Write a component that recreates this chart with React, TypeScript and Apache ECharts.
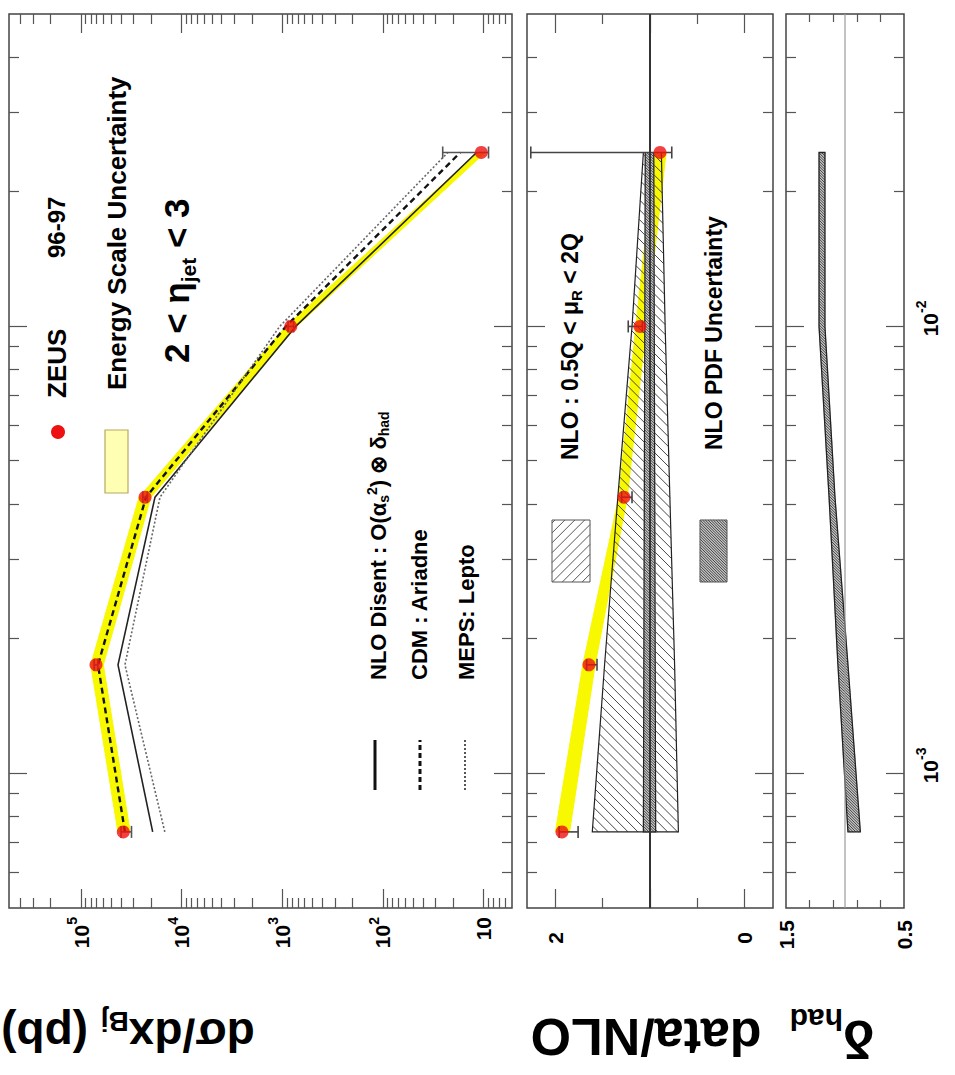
import React, { useEffect, useRef } from "react";
import * as echarts from "echarts";

// ---------- measurements ----------
const xBj = [7.4e-4, 1.75e-3, 4.15e-3, 1.0e-2, 2.45e-2];

// dσ/dx_Bj (pb)
const zeus = [38000, 71000, 23100, 822, 10.5];
const zeusErrLo = [31500, 68000, 21900, 770, 8.9];
const zeusErrHi = [40000, 74000, 24300, 875, 25.4];
const energyLo = [32500, 60000, 20200, 720, 9.6];
const energyHi = [43000, 80000, 26500, 920, 11.4];
const nloDisent = [19400, 42900, 18400, 735, 11.7];
const cdmAriadne = [36600, 67800, 22600, 920, 17];
const mepsLepto = [14700, 36600, 16400, 1060, 22.6];

// data/NLO
const ratio = [1.93, 1.645, 1.275, 1.106, 0.894];
const ratioErrLo = [1.76, 1.56, 1.19, 1.08, 0.77];
const ratioErrHi = [1.96, 1.67, 1.3, 1.23, 2.26];
const ratioEnergyLo = [1.85, 1.58, 1.24, 1.04, 0.83];
const ratioEnergyHi = [2.0, 1.71, 1.33, 1.15, 0.95];
const scaleLo = [0.7, 0.74, 0.79, 0.84, 0.88];
const scaleHi = [1.61, 1.48, 1.34, 1.19, 1.07];
const pdfLo = [0.94, 0.945, 0.95, 0.955, 0.96];
const pdfHi = [1.07, 1.065, 1.06, 1.055, 1.05];

// δ_had
const hadLo = [0.87, 0.975, 1.085, 1.17, 1.17];
const hadHi = [0.975, 1.06, 1.135, 1.22, 1.22];

// ---------- axes ----------
const xRange = [5e-4, 5e-2];
const xMajorTicks = [1e-3, 1e-2];
const xMinorTicks = [6e-4, 7e-4, 8e-4, 9e-4, 2e-3, 3e-3, 4e-3, 5e-3, 6e-3, 7e-3, 8e-3, 9e-3, 2e-2, 3e-2, 4e-2];
const xTickLabels = [1e-3, 1e-2];

const sigmaRange = [5.2, 5.2e5];
const sigmaMajorTicks = [1e1, 1e2, 1e3, 1e4, 1e5];
const sigmaMinorTicks = [
  6, 7, 8, 9, 20, 30, 40, 50, 60, 70, 80, 90, 200, 300, 400, 500, 600, 700, 800, 900,
  2000, 3000, 4000, 5000, 6000, 7000, 8000, 9000, 20000, 30000, 40000, 50000, 60000, 70000, 80000, 90000,
  200000, 300000, 400000,
];
const sigmaTickLabels = [1e1, 1e2, 1e3, 1e4, 1e5];

const ratioRange = [-0.3, 2.3];
const ratioMajorTicks = [0, 1, 2];
const ratioMinorTicks = [0.5, 1.5];
const ratioTickLabels = [0, 2];

const hadRange = [0.5, 1.5];
const hadMinorTicks = [0.7, 0.9, 1.1, 1.3];
const hadTickLabels = [0.5, 1.5];

// ---------- drawing helpers ----------
const FONT = "'Liberation Sans', Arial, Helvetica, sans-serif";
const L10 = Math.log10;
const RED = "#ee1111";
const YELLOW = "#f8f800";

// straight hatch lines clipped to a polygon (pixel space)
function hatchSegments(poly: number[][], spacing: number, angle: number) {
  const dx = Math.cos(angle), dy = Math.sin(angle);
  const nx = -dy, ny = dx;
  const proj = poly.map((p) => p[0] * nx + p[1] * ny);
  const pMin = Math.min(...proj), pMax = Math.max(...proj);
  const segs: number[][] = [];
  for (let c = Math.ceil(pMin / spacing) * spacing; c <= pMax; c += spacing) {
    const ts: number[] = [];
    for (let i = 0; i < poly.length; i++) {
      const a = poly[i], b = poly[(i + 1) % poly.length];
      const sa = a[0] * nx + a[1] * ny - c;
      const sb = b[0] * nx + b[1] * ny - c;
      if ((sa < 0) !== (sb < 0)) {
        const t = sa / (sa - sb);
        const px = a[0] + (b[0] - a[0]) * t, py = a[1] + (b[1] - a[1]) * t;
        ts.push(px * dx + py * dy);
      }
    }
    ts.sort((u, v) => u - v);
    for (let k = 0; k + 1 < ts.length; k += 2) {
      segs.push([c * nx + ts[k] * dx, c * ny + ts[k] * dy, c * nx + ts[k + 1] * dx, c * ny + ts[k + 1] * dy]);
    }
  }
  return segs;
}

const segPath = (segs: number[][]) =>
  segs.map((s) => `M${s[0].toFixed(2)} ${s[1].toFixed(2)}L${s[2].toFixed(2)} ${s[3].toFixed(2)}`).join("");

const HATCH_ANGLE = -Math.PI / 4;

function bandSeries(g: number, lo: number[], hi: number[], look: any) {
  const ax = g * 5;
  return {
    type: "custom",
    xAxisIndex: ax,
    yAxisIndex: ax,
    z: look.z,
    silent: true,
    data: xBj.map((x, i) => [x, lo[i], hi[i]]),
    encode: { x: 0, y: [1, 2] },
    renderItem: (params: any, api: any) => {
      if (params.dataIndex !== 0) return null;
      const top = xBj.map((x, i) => api.coord([x, hi[i]]));
      const bot = xBj.map((x, i) => api.coord([x, lo[i]])).reverse();
      const pts = top.concat(bot);
      const children: any[] = [];
      if (look.fill) {
        children.push({ type: "polygon", shape: { points: pts }, style: { fill: look.fill, stroke: look.fill, lineWidth: 1 } });
      }
      if (look.hatch) {
        children.push({
          type: "path",
          shape: { pathData: segPath(hatchSegments(pts, look.hatch.spacing, HATCH_ANGLE)) },
          style: { fill: "none", stroke: look.hatch.color, lineWidth: look.hatch.width },
        });
      }
      if (look.stroke) {
        children.push({ type: "polygon", shape: { points: pts }, style: { fill: "none", stroke: look.stroke, lineWidth: look.strokeWidth } });
      }
      return { type: "group", children };
    },
  };
}

function errorSeries(g: number, lo: number[], hi: number[], color: string) {
  const ax = g * 5;
  return {
    type: "custom",
    xAxisIndex: ax,
    yAxisIndex: ax,
    z: 8,
    silent: true,
    data: xBj.map((x, i) => [x, lo[i], hi[i]]),
    encode: { x: 0, y: [1, 2] },
    renderItem: (params: any, api: any) => {
      const x = api.value(0);
      const a = api.coord([x, api.value(1)]);
      const b = api.coord([x, api.value(2)]);
      const st = { stroke: color, lineWidth: 1.6 };
      const cap = 6;
      return {
        type: "group",
        children: [
          { type: "line", shape: { x1: a[0], y1: a[1], x2: b[0], y2: b[1] }, style: st },
          { type: "line", shape: { x1: a[0] - cap, y1: a[1], x2: a[0] + cap, y2: a[1] }, style: st },
          { type: "line", shape: { x1: b[0] - cap, y1: b[1], x2: b[0] + cap, y2: b[1] }, style: st },
        ],
      };
    },
  };
}

const lblRich = {
  b: { fontSize: 21, fontWeight: "bold", fontFamily: FONT, color: "#000", lineHeight: 32 },
  p: { fontSize: 14, fontWeight: "bold", fontFamily: FONT, color: "#000", verticalAlign: "top" },
};

function tickAxis(g: number, min: number, max: number, position: string, len: number, ticks: number[], label?: any) {
  return {
    type: "value",
    gridIndex: g,
    min,
    max,
    position,
    axisLine: { show: false, onZero: false },
    splitLine: { show: false },
    axisTick: {
      show: ticks.length > 0,
      inside: true,
      length: len,
      customValues: ticks,
      lineStyle: { color: "#555", width: 1.2 },
    },
    axisLabel: label
      ? {
          show: true,
          customValues: label.values,
          formatter: label.formatter,
          margin: label.margin,
          padding: label.padding || 0,
          rich: lblRich,
          color: "#000",
          fontSize: 21,
          fontWeight: "bold",
          fontFamily: FONT,
          showMinLabel: true,
          showMaxLabel: true,
        }
      : { show: false },
  };
}

const powLabel = (v: number) => {
  const e = Math.round(v);
  return e === 1 ? "{b|10}" : `{b|10}{p|${e}}`;
};

const grids = [
  { left: 167, top: 9, width: 894, height: 503 },
  { left: 167, top: 527, width: 894, height: 246 },
  { left: 167, top: 786, width: 894, height: 118 },
].map((g) => ({ ...g, show: true, borderColor: "#444", borderWidth: 1.5, backgroundColor: "transparent" }));

function buildAxes() {
  const xAxis: any[] = [];
  const yAxis: any[] = [];
  const lx0 = L10(xRange[0]), lx1 = L10(xRange[1]);
  for (let g = 0; g < 3; g++) {
    xAxis.push({ type: "log", logBase: 10, gridIndex: g, min: xRange[0], max: xRange[1], show: false });
    const xl =
      g === 2
        ? { values: xTickLabels.map(L10), formatter: powLabel, margin: 10, padding: [0, 0, 0, 16] }
        : undefined;
    xAxis.push(tickAxis(g, lx0, lx1, "bottom", 18, xMajorTicks.map(L10), xl));
    xAxis.push(tickAxis(g, lx0, lx1, "bottom", 10, xMinorTicks.map(L10)));
    xAxis.push(tickAxis(g, lx0, lx1, "top", 18, xMajorTicks.map(L10)));
    xAxis.push(tickAxis(g, lx0, lx1, "top", 10, xMinorTicks.map(L10)));
  }
  // cross section (log)
  const ly0 = L10(sigmaRange[0]), ly1 = L10(sigmaRange[1]);
  yAxis.push({ type: "log", logBase: 10, gridIndex: 0, min: sigmaRange[0], max: sigmaRange[1], show: false });
  yAxis.push(tickAxis(0, ly0, ly1, "left", 19, sigmaMajorTicks.map(L10), { values: sigmaTickLabels.map(L10), formatter: powLabel, margin: 9 }));
  yAxis.push(tickAxis(0, ly0, ly1, "left", 10, sigmaMinorTicks.map(L10)));
  yAxis.push(tickAxis(0, ly0, ly1, "right", 19, sigmaMajorTicks.map(L10)));
  yAxis.push(tickAxis(0, ly0, ly1, "right", 10, sigmaMinorTicks.map(L10)));
  // data/NLO
  yAxis.push({ type: "value", gridIndex: 1, min: ratioRange[0], max: ratioRange[1], show: false });
  yAxis.push(tickAxis(1, ratioRange[0], ratioRange[1], "left", 19, ratioMajorTicks, { values: ratioTickLabels, formatter: (v: number) => `{b|${v}}`, margin: 24 }));
  yAxis.push(tickAxis(1, ratioRange[0], ratioRange[1], "left", 10, ratioMinorTicks));
  yAxis.push(tickAxis(1, ratioRange[0], ratioRange[1], "right", 19, ratioMajorTicks));
  yAxis.push(tickAxis(1, ratioRange[0], ratioRange[1], "right", 10, ratioMinorTicks));
  // δ_had
  yAxis.push({ type: "value", gridIndex: 2, min: hadRange[0], max: hadRange[1], show: false });
  yAxis.push(tickAxis(2, hadRange[0], hadRange[1], "left", 8, [], { values: hadTickLabels, formatter: (v: number) => `{b|${v.toFixed(1)}}`, margin: 12 }));
  yAxis.push(tickAxis(2, hadRange[0], hadRange[1], "left", 8, hadMinorTicks));
  yAxis.push(tickAxis(2, hadRange[0], hadRange[1], "right", 8, []));
  yAxis.push(tickAxis(2, hadRange[0], hadRange[1], "right", 8, hadMinorTicks));
  return { xAxis, yAxis };
}

const pairs = (ys: number[]) => xBj.map((x, i) => [x, ys[i]]);

function lineSeries(g: number, ys: number[], style: any, z = 5) {
  return {
    type: "line",
    xAxisIndex: g * 5,
    yAxisIndex: g * 5,
    data: pairs(ys),
    showSymbol: false,
    symbol: "none",
    silent: true,
    z,
    lineStyle: style,
  };
}

function pointSeries(g: number, ys: number[]) {
  return {
    type: "scatter",
    xAxisIndex: g * 5,
    yAxisIndex: g * 5,
    data: pairs(ys),
    symbol: "circle",
    symbolSize: 13,
    silent: true,
    z: 10,
    itemStyle: { color: RED },
  };
}

function unityLine(g: number, color: string, width: number) {
  return {
    type: "line",
    xAxisIndex: g * 5,
    yAxisIndex: g * 5,
    data: [
      [xRange[0], 1],
      [xRange[1], 1],
    ],
    showSymbol: false,
    symbol: "none",
    silent: true,
    z: 9,
    lineStyle: { color, width },
  };
}

// ---------- annotations ----------
const richSet = (main: number, sub: number, lh: number) => ({
  m: { fontSize: main, fontWeight: "bold", fontFamily: FONT, fill: "#000", lineHeight: lh },
  s: { fontSize: sub, fontWeight: "bold", fontFamily: FONT, fill: "#000", verticalAlign: "bottom" },
  p: { fontSize: sub, fontWeight: "bold", fontFamily: FONT, fill: "#000", verticalAlign: "top" },
});

function text(x: number, y: number, str: string, size: number, extra: any = {}, rotation = 0) {
  const align = extra.align || "left";
  return {
    type: "text",
    x,
    y,
    rotation,
    silent: true,
    style: {
      text: str,
      fill: "#000",
      fontSize: size,
      fontWeight: "bold",
      fontFamily: FONT,
      align,
      textAlign: align,
      verticalAlign: "middle",
      textVerticalAlign: "middle",
      ...extra,
    },
  };
}

function hatchBox(x: number, y: number, w: number, h: number, spacing: number, angle: number, color: string, width: number, fill = "none") {
  const poly = [
    [x, y],
    [x + w, y],
    [x + w, y + h],
    [x, y + h],
  ];
  const segs = hatchSegments(poly, spacing, angle);
  return {
    type: "group",
    silent: true,
    children: [
      { type: "rect", shape: { x, y, width: w, height: h }, style: { fill, stroke: "none" } },
      ...segs.map((s) => ({
        type: "line",
        shape: { x1: s[0], y1: s[1], x2: s[2], y2: s[3] },
        style: { stroke: color, lineWidth: width },
      })),
      { type: "rect", shape: { x, y, width: w, height: h }, style: { fill: "none", stroke: "#555", lineWidth: 1 } },
    ],
  };
}

const DENSE_FILL = "#c4c4c4";

const graphic = [
  // panel 1 legend
  { type: "circle", shape: { cx: 643, cy: 58, r: 7 }, style: { fill: RED }, silent: true },
  text(677, 57, "ZEUS", 26),
  text(817, 56, "96-97", 24),
  { type: "rect", shape: { x: 582, y: 105, width: 63, height: 23 }, style: { fill: "#ffffb4", stroke: "#b8a860", lineWidth: 1.2 }, silent: true },
  text(685, 117, "Energy Scale Uncertainty", 26),
  text(712, 176, "{m|2 < η}{s|jet}{m| < 3}", 35, { rich: richSet(35, 21, 45) }),
  { type: "line", shape: { x1: 285, y1: 375, x2: 335, y2: 375 }, style: { stroke: "#111", lineWidth: 3 }, silent: true },
  { type: "line", shape: { x1: 285, y1: 420, x2: 335, y2: 420 }, style: { stroke: "#111", lineWidth: 3, lineDash: [5, 3] }, silent: true },
  { type: "line", shape: { x1: 285, y1: 465, x2: 335, y2: 465 }, style: { stroke: "#555", lineWidth: 2, lineDash: [2, 2] }, silent: true },
  text(395, 378, "{m|NLO Disent : O(α}{s|s}{p|2}{m|) ⊗ δ}{s|had}", 22, { rich: richSet(22, 14, 26) }),
  text(395, 419, "CDM : Ariadne", 22),
  text(395, 466, "MEPS: Lepto", 22),
  // panel 2 legend
  hatchBox(493, 552, 62, 38, 7, Math.PI / 4, "#444", 0.9),
  text(615, 570, "{m|NLO : 0.5Q < μ}{s|R}{m| < 2Q}", 23, { rich: richSet(23, 15, 28) }),
  hatchBox(493, 700, 62, 27, 1.9, HATCH_ANGLE, "#333", 0.9, DENSE_FILL),
  text(625, 714, "NLO PDF Uncertainty", 23),
  // axis titles
  text(40, 128, "{m|dσ/dx}{s|Bj}{m| (pb)}", 46, { align: "center", rich: richSet(46, 28, 56) }, Math.PI / 2),
  text(38, 646, "data/NLO", 52, { align: "center" }, Math.PI / 2),
  text(36, 832, "{m|δ}{s|had}", 52, { align: "center", rich: richSet(52, 30, 70) }, Math.PI / 2),
];

function buildOption() {
  const { xAxis, yAxis } = buildAxes();
  const series: any[] = [
    // panel 1
    bandSeries(0, energyLo, energyHi, { fill: YELLOW, z: 2 }),
    lineSeries(0, nloDisent, { color: "#222", width: 1.6 }),
    lineSeries(0, cdmAriadne, { color: "#111", width: 2.4, type: [6, 4] }),
    lineSeries(0, mepsLepto, { color: "#666", width: 1.6, type: [2, 2] }),
    errorSeries(0, zeusErrLo, zeusErrHi, "#555"),
    pointSeries(0, zeus),
    // panel 2
    bandSeries(1, ratioEnergyLo, ratioEnergyHi, { fill: YELLOW, z: 2 }),
    bandSeries(1, scaleLo, scaleHi, { hatch: { spacing: 7, color: "#333", width: 0.9 }, stroke: "#222", strokeWidth: 1.2, z: 3 }),
    bandSeries(1, pdfLo, pdfHi, { fill: DENSE_FILL, hatch: { spacing: 1.9, color: "#333", width: 0.9 }, stroke: "#222", strokeWidth: 1.2, z: 4 }),
    unityLine(1, "#333", 2),
    errorSeries(1, ratioErrLo, ratioErrHi, "#444"),
    pointSeries(1, ratio),
    // panel 3
    unityLine(2, "#999", 1.2),
    bandSeries(2, hadLo, hadHi, { fill: DENSE_FILL, hatch: { spacing: 1.9, color: "#333", width: 0.9 }, stroke: "#222", strokeWidth: 1.3, z: 4 }),
  ];
  return {
    animation: false,
    backgroundColor: "#fff",
    grid: grids,
    xAxis,
    yAxis,
    series,
    graphic,
  };
}

export default function App() {
  const ref = useRef<HTMLDivElement>(null);
  useEffect(() => {
    const chart = echarts.init(ref.current as HTMLDivElement, undefined, { renderer: "svg" });
    chart.setOption(buildOption() as any);
    return () => chart.dispose();
  }, []);
  return (
    <div style={{ position: "fixed", left: 0, top: 0, width: 955, height: 1075, overflow: "hidden", background: "#fff" }}>
      {/* the figure is laid out landscape and turned a quarter turn counter-clockwise */}
      <div
        ref={ref}
        style={{
          position: "absolute",
          left: 0,
          top: 0,
          width: 1075,
          height: 955,
          transformOrigin: "0 0",
          transform: "translate(0px, 1075px) rotate(-90deg)",
        }}
      />
    </div>
  );
}
